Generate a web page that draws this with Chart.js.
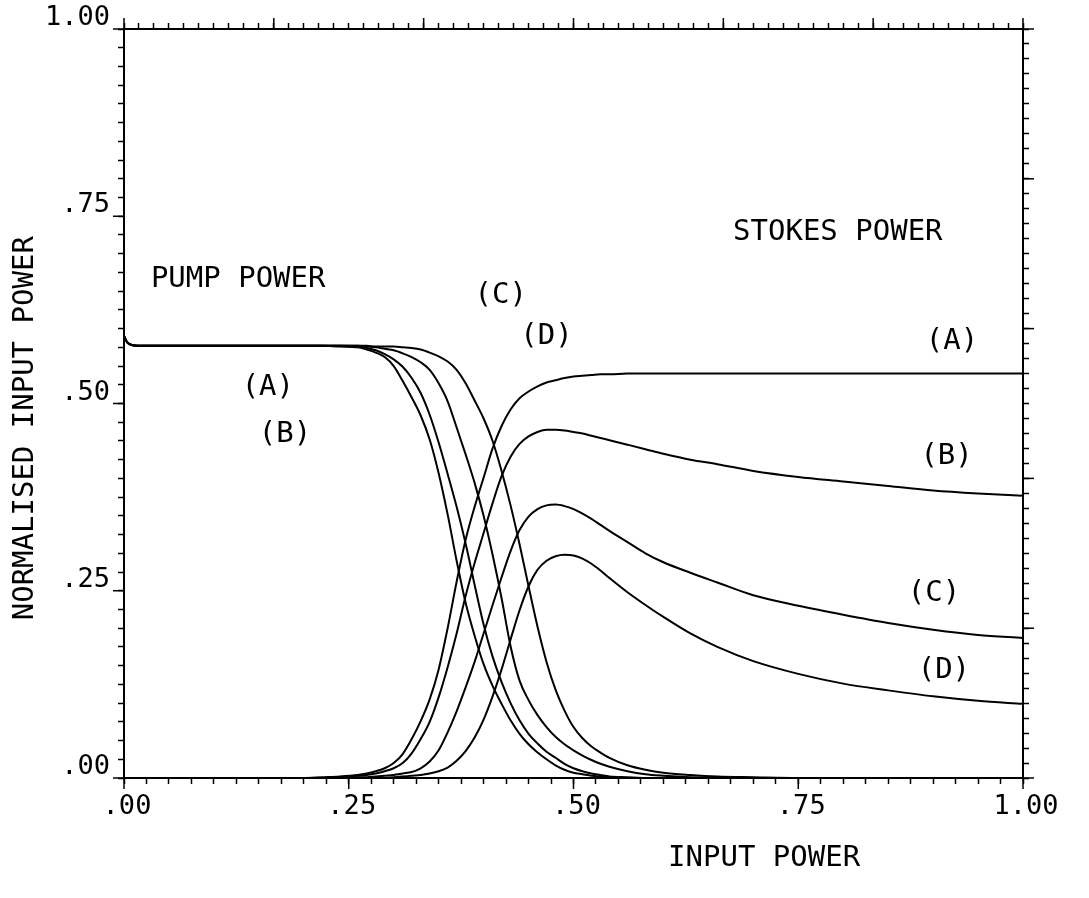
<!DOCTYPE html>
<html>
<head>
<meta charset="utf-8">
<script src="https://cdn.jsdelivr.net/npm/chart.js@4.4.0/dist/chart.umd.min.js"></script>
<style>
  html, body { margin: 0; padding: 0; background: #fff; }
</style>
</head>
<body>
<canvas id="graph" width="1089" height="898"></canvas>
<script>
// input power samples shared by every curve
const xs = [0, 0.004, 0.015, 0.1, 0.2, 0.22, 0.24, 0.26,
  0.27, 0.28, 0.29, 0.30, 0.31, 0.32, 0.33, 0.34, 0.35, 0.36, 0.37, 0.38, 0.39, 0.40,
  0.41, 0.42, 0.43, 0.44, 0.45, 0.46, 0.47, 0.48, 0.49, 0.50, 0.51, 0.52, 0.53, 0.54,
  0.56, 0.58, 0.60, 0.63, 0.66, 0.70, 0.75, 0.80, 0.85, 0.90, 0.95, 1.0];

// pump power (A)..(D)
const pumpA = [0.590, 0.581, 0.577, 0.577, 0.577, 0.577, 0.576, 0.575,
  0.572, 0.568, 0.562, 0.550, 0.530, 0.508, 0.484, 0.452, 0.407, 0.352, 0.290, 0.234, 0.190, 0.152,
  0.123, 0.099, 0.077, 0.059, 0.045, 0.034, 0.025, 0.017, 0.011, 0.007, 0.005, 0.003, 0.002, 0.001,
  0, 0, 0, 0, 0, 0, 0, 0, 0, 0, 0, 0];
const pumpB = [0.590, 0.581, 0.577, 0.577, 0.577, 0.577, 0.577, 0.576,
  0.574, 0.571, 0.566, 0.559, 0.549, 0.534, 0.514, 0.485, 0.448, 0.406, 0.362, 0.313, 0.258, 0.205,
  0.162, 0.128, 0.100, 0.077, 0.059, 0.046, 0.035, 0.027, 0.019, 0.013, 0.009, 0.006, 0.004, 0.002,
  0.001, 0, 0, 0, 0, 0, 0, 0, 0, 0, 0, 0];
const pumpC = [0.590, 0.581, 0.577, 0.577, 0.577, 0.577, 0.577, 0.577,
  0.576, 0.575, 0.573, 0.571, 0.567, 0.562, 0.555, 0.545, 0.527, 0.503, 0.468, 0.432, 0.394, 0.350,
  0.298, 0.240, 0.176, 0.130, 0.104, 0.084, 0.068, 0.055, 0.045, 0.037, 0.030, 0.024, 0.019, 0.015,
  0.009, 0.005, 0.003, 0.001, 0, 0, 0, 0, 0, 0, 0, 0];
const pumpD = [0.590, 0.581, 0.577, 0.577, 0.577, 0.577, 0.577, 0.577,
  0.577, 0.576, 0.576, 0.576, 0.575, 0.574, 0.572, 0.568, 0.563, 0.556, 0.545, 0.527, 0.504, 0.480,
  0.450, 0.410, 0.364, 0.312, 0.256, 0.202, 0.155, 0.118, 0.090, 0.068, 0.053, 0.042, 0.034, 0.027,
  0.017, 0.011, 0.007, 0.004, 0.002, 0.001, 0, 0, 0, 0, 0, 0];

// stokes power (A)..(D)
const stokesA = [0, 0, 0, 0, 0, 0.001, 0.002, 0.004,
  0.006, 0.009, 0.013, 0.020, 0.032, 0.052, 0.076, 0.105, 0.145, 0.200, 0.262, 0.318, 0.362, 0.401,
  0.440, 0.470, 0.492, 0.507, 0.516, 0.523, 0.528, 0.531, 0.534, 0.536, 0.537, 0.538, 0.539, 0.539,
  0.540, 0.540, 0.540, 0.540, 0.540, 0.540, 0.540, 0.540, 0.540, 0.540, 0.540, 0.540];
const stokesB = [0, 0, 0, 0, 0, 0, 0.001, 0.003,
  0.004, 0.006, 0.009, 0.013, 0.020, 0.033, 0.052, 0.075, 0.108, 0.148, 0.193, 0.243, 0.287, 0.327,
  0.367, 0.403, 0.429, 0.446, 0.456, 0.462, 0.465, 0.465, 0.464, 0.462, 0.460, 0.457, 0.454, 0.451,
  0.445, 0.439, 0.433, 0.425, 0.419, 0.410, 0.402, 0.396, 0.390, 0.384, 0.380, 0.377];
const stokesC = [0, 0, 0, 0, 0, 0, 0, 0.001,
  0.001, 0.002, 0.003, 0.004, 0.006, 0.008, 0.013, 0.022, 0.037, 0.061, 0.089, 0.121, 0.155, 0.193,
  0.231, 0.268, 0.303, 0.331, 0.349, 0.359, 0.364, 0.365, 0.363, 0.359, 0.353, 0.346, 0.338, 0.330,
  0.315, 0.300, 0.288, 0.274, 0.261, 0.244, 0.230, 0.218, 0.207, 0.198, 0.191, 0.187];
const stokesD = [0, 0, 0, 0, 0, 0, 0, 0,
  0, 0, 0, 0.001, 0.002, 0.003, 0.004, 0.006, 0.009, 0.014, 0.023, 0.036, 0.054, 0.078,
  0.109, 0.145, 0.185, 0.224, 0.256, 0.278, 0.290, 0.296, 0.298, 0.297, 0.293, 0.286, 0.277, 0.267,
  0.248, 0.231, 0.215, 0.193, 0.175, 0.156, 0.139, 0.126, 0.117, 0.109, 0.103, 0.099];

// axis labels
const xTickValues = [0, 0.25, 0.5, 0.75, 1];
const xTickLabels = ['.00', '.25', '.50', '.75', '1.00'];
const yTickValues = [0, 0.25, 0.5, 0.75, 1];
const yTickLabels = ['.00', '.25', '.50', '.75', '1.00'];

// text written on the plot (in data units)
const notes = [
  { text: 'PUMP POWER', x: 0.127, y: 0.665 },
  { text: 'STOKES POWER', x: 0.794, y: 0.729 },
  { text: '(A)', x: 0.160, y: 0.521 },
  { text: '(B)', x: 0.179, y: 0.458 },
  { text: '(C)', x: 0.419, y: 0.644 },
  { text: '(D)', x: 0.470, y: 0.590 },
  { text: '(A)', x: 0.921, y: 0.583 },
  { text: '(B)', x: 0.915, y: 0.429 },
  { text: '(C)', x: 0.901, y: 0.247 },
  { text: '(D)', x: 0.912, y: 0.143 },
  { text: 'INPUT POWER', x: 0.712, y: -0.108 },
  { text: 'NORMALISED INPUT POWER', x: -0.110, y: 0.467, rotate: true }
];

const FONT = 'DejaVu Sans Mono';

function pts(ys) {
  return xs.map((x, i) => ({ x: x, y: ys[i] }));
}

function curve(ys) {
  return {
    data: pts(ys),
    borderColor: '#000',
    borderWidth: 2,
    pointRadius: 0,
    fill: false,
    cubicInterpolationMode: 'monotone'
  };
}

function pickLabel(values, labels) {
  return function (v) {
    for (let i = 0; i < values.length; i++) {
      if (Math.abs(v - values[i]) < 1e-6) return labels[i];
    }
    return '';
  };
}

// long ticks at the labelled values
const majorTicks = {
  id: 'majorTicks',
  afterDraw(chart) {
    const ctx = chart.ctx, a = chart.chartArea;
    const sets = { x: xTickValues, y: yTickValues, x2: [0, 1, 2, 3, 4, 5, 6], y2: [0, 1, 2, 3, 4, 5] };
    ctx.save();
    ctx.strokeStyle = '#000';
    ctx.lineWidth = 1.5;
    Object.keys(sets).forEach(id => {
      const s = chart.scales[id];
      sets[id].forEach(v => {
        const p = s.getPixelForValue(v);
        ctx.beginPath();
        if (id === 'x') { ctx.moveTo(p, a.bottom); ctx.lineTo(p, a.bottom + 11); }
        if (id === 'x2') { ctx.moveTo(p, a.top); ctx.lineTo(p, a.top - 11); }
        if (id === 'y') { ctx.moveTo(a.left, p); ctx.lineTo(a.left - 11, p); }
        if (id === 'y2') { ctx.moveTo(a.right, p); ctx.lineTo(a.right + 11, p); }
        ctx.stroke();
      });
    });
    ctx.restore();
  }
};

const plotText = {
  id: 'plotText',
  afterDraw(chart) {
    const ctx = chart.ctx, sx = chart.scales.x, sy = chart.scales.y;
    ctx.save();
    ctx.fillStyle = '#000';
    ctx.textAlign = 'center';
    ctx.textBaseline = 'middle';
    ctx.font = '29px "' + FONT + '"';
    notes.forEach(n => {
      ctx.save();
      ctx.translate(sx.getPixelForValue(n.x), sy.getPixelForValue(n.y));
      if (n.rotate) ctx.rotate(-Math.PI / 2);
      ctx.fillText(n.text, 0, 0);
      ctx.restore();
    });
    ctx.restore();
  }
};

function axis(pos, min, max, step, size, labels) {
  const horiz = pos === 'top' || pos === 'bottom';
  return {
    type: 'linear',
    position: pos,
    min: min,
    max: max,
    ticks: {
      stepSize: step,
      maxTicksLimit: 1000,
      autoSkip: false,
      maxRotation: 0,
      color: '#000',
      font: { family: FONT, size: 27 },
      padding: horiz ? 7 : 8,
      labelOffset: horiz ? 3 : -11,
      callback: labels || (() => '')
    },
    grid: {
      drawOnChartArea: false,
      tickLength: 6,
      tickColor: '#000',
      tickWidth: 1.5
    },
    border: { color: '#000', width: 2 },
    afterFit(s) {
      if (horiz) s.height = size; else s.width = size;
    }
  };
}

new Chart(document.getElementById('graph'), {
  type: 'line',
  data: {
    datasets: [pumpA, pumpB, pumpC, pumpD, stokesA, stokesB, stokesC, stokesD].map(curve)
  },
  options: {
    responsive: false,
    devicePixelRatio: 1,
    animation: false,
    layout: { padding: 0 },
    plugins: { legend: { display: false }, tooltip: { enabled: false } },
    scales: {
      x: axis('bottom', 0, 1, 0.025, 120, pickLabel(xTickValues, xTickLabels)),
      x2: axis('top', 0, 6, 0.1, 29),
      y: axis('left', 0, 1, 0.025, 124, pickLabel(yTickValues, yTickLabels)),
      y2: axis('right', 0, 5, 0.1, 66)
    }
  },
  plugins: [majorTicks, plotText]
});
</script>
</body>
</html>
